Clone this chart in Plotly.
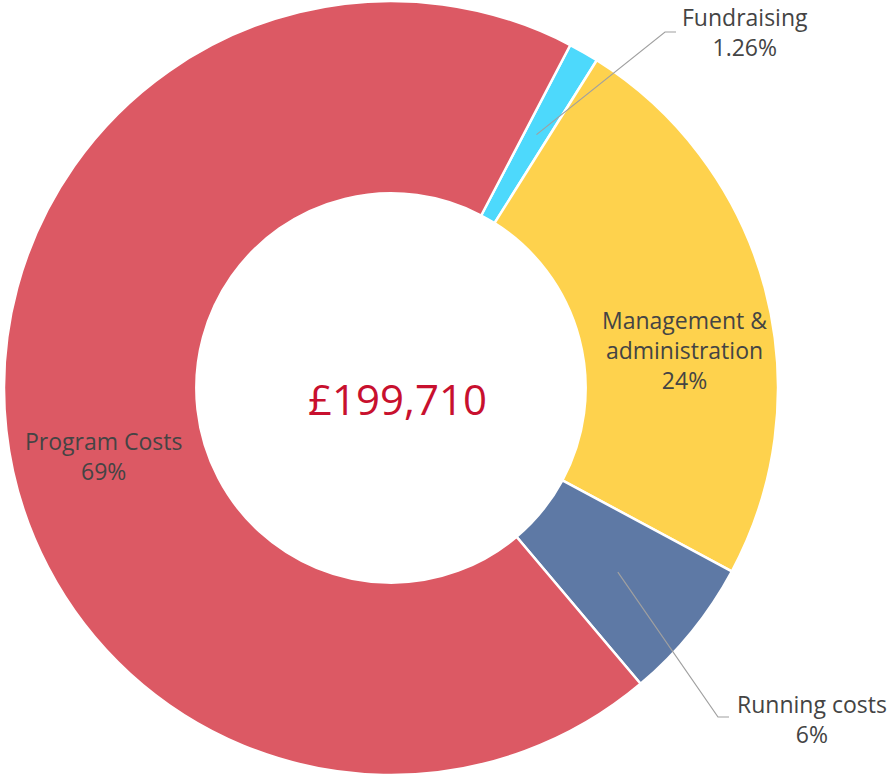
import math
import plotly.graph_objects as go

labels = ["Fundraising", "Management & administration", "Running costs", "Program Costs"]
label_lines = ["Fundraising", "Management &<br>administration", "Running costs", "Program Costs"]
values = [1.26, 24, 6, 69]
pct_text = ["1.26%", "24%", "6%", "69%"]
colors = ["#4dd9fc", "#fed24d", "#5e79a5", "#dc5964"]
total_text = "£199,710"

W, H = 890, 775
CX, CY, R = 391, 388, 387
HOLE = 0.503
ROT = 27.6

fig = go.Figure(go.Pie(
    labels=labels, values=values, hole=HOLE, sort=False, direction="clockwise",
    rotation=ROT, textinfo="none", hoverinfo="label+percent",
    marker=dict(colors=colors, line=dict(color="white", width=2.5)),
    domain=dict(x=[(CX - R) / W, (CX + R) / W], y=[(H - CY - R) / H, (H - CY + R) / H]),
    showlegend=False,
))

def px2paper(x, y):
    return x / W, 1 - y / H

tot = sum(values)
cum = 0
mids = []
for v in values:
    mids.append(ROT + 360 * (cum + v / 2) / tot)
    cum += v
rmid = R * (1 + HOLE) / 2

def ringpt(ang, r=rmid):
    a = math.radians(ang)
    return CX + r * math.sin(a), CY - r * math.cos(a)

annotations = []
shapes = []
font = dict(family="Open Sans", size=23, color="#444444")

# inside labels (Management, Program)
for i in (1, 3):
    x, y = ringpt(mids[i])
    x += 12 if i == 1 else 2
    y += 36
    px, py = px2paper(x, y)
    annotations.append(dict(x=px, y=py, xref="paper", yref="paper",
                            text=f"{label_lines[i]}<br>{pct_text[i]}", showarrow=False,
                            font=font, align="center", xanchor="center", yanchor="middle"))

# outside labels with leader lines
outside = {0: ((665, 32), (676, 32), (745, 32)), 2: ((718, 717), (729, 717), (812, 719))}
for i, (bend, end, tpos) in outside.items():
    sx, sy = ringpt(mids[i], R * 0.755)
    path = f"M {sx/W} {1-sy/H} L {bend[0]/W} {1-bend[1]/H} L {end[0]/W} {1-end[1]/H}"
    shapes.append(dict(type="path", xref="paper", yref="paper", path=path,
                       line=dict(color="#a0a0a0", width=1.2)))
    px, py = px2paper(*tpos)
    annotations.append(dict(x=px, y=py, xref="paper", yref="paper",
                            text=f"{label_lines[i]}<br>{pct_text[i]}", showarrow=False,
                            font=font, align="center", xanchor="center", yanchor="middle"))

# centre total
cx, cy = px2paper(397, 398)
annotations.append(dict(x=cx, y=cy, xref="paper", yref="paper", text=total_text,
                        showarrow=False, font=dict(family="Open Sans", size=42, color="#c8102e"),
                        xanchor="center", yanchor="middle"))

fig.update_layout(width=W, height=H, margin=dict(l=0, r=0, t=0, b=0),
                  paper_bgcolor="white", plot_bgcolor="white",
                  annotations=annotations, shapes=shapes)
fig.write_html("out.html", config={"displayModeBar": False},
               post_script="document.body.style.margin='0';document.body.style.overflow='hidden';")
